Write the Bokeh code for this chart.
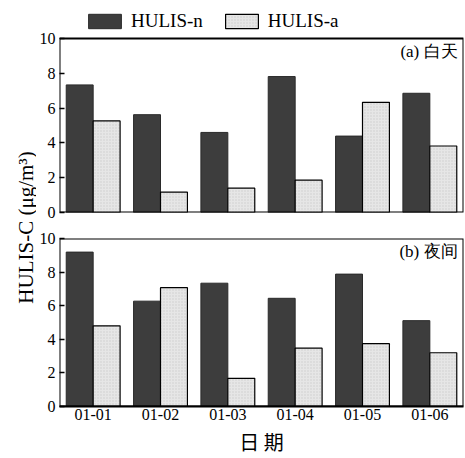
import math
from bokeh.plotting import figure
from bokeh.layouts import row, column
from bokeh.models import (ColumnDataSource, FactorRange, Range1d, Label,
                          Legend, LegendItem, FixedTicker, BoxAnnotation)
from bokeh.transform import dodge
from bokeh.embed import file_html
from bokeh.resources import INLINE

# ---------------- data ----------------
dates = ["01-01", "01-02", "01-03", "01-04", "01-05", "01-06"]
day_n = [7.33, 5.62, 4.60, 7.81, 4.39, 6.85]
day_a = [5.26, 1.17, 1.40, 1.86, 6.33, 3.82]
night_n = [9.19, 6.27, 7.34, 6.44, 7.88, 5.11]
night_a = [4.80, 7.07, 1.68, 3.47, 3.74, 3.20]
y_ticks = [0, 2, 4, 6, 8, 10]
series_names = ["HULIS-n", "HULIS-a"]
panel_titles = ["(a) 白天", "(b) 夜间"]
x_title = "日 期"
y_title = "HULIS-C (μg/m³)"

SERIF = "Liberation Serif"
CJK = "Noto Sans CJK SC"

DARK = "#3d3d3d"
LIGHT = "#e6e6e6"

LAB_W = 36
Y_MIN, Y_MAX = y_ticks[0], y_ticks[-1]


def make_panel(n_vals, a_vals, title, height, top, bottom, show_x, y_hi):
    src = ColumnDataSource(dict(date=dates, n=n_vals, a=a_vals))
    p = figure(x_range=FactorRange(factors=dates, range_padding=0),
               y_range=Range1d(Y_MIN, y_hi), width=465 - LAB_W, height=height,
               output_backend="svg", toolbar_location=None,
               min_border_left=58 - LAB_W, min_border_right=2,
               min_border_top=top, min_border_bottom=bottom)
    rn = p.vbar(x=dodge("date", -0.2, range=p.x_range), top="n", width=0.4,
                source=src, fill_color=DARK, line_color="#2a2a2a", line_width=1)
    ra = p.vbar(x=dodge("date", 0.2, range=p.x_range), top="a", width=0.4,
                source=src, fill_color=LIGHT, line_color="black", line_width=1.2,
                hatch_pattern=".", hatch_scale=3, hatch_color="#9a9a9a",
                hatch_alpha=0.35, hatch_weight=0.6)
    p.xgrid.visible = False
    p.ygrid.visible = False
    p.outline_line_color = None
    p.background_fill_color = "white"
    p.border_fill_color = "white"

    # panel frame spanning the value range
    p.add_layout(BoxAnnotation(left=0, right=len(dates), bottom=Y_MIN, top=Y_MAX,
                               fill_alpha=0, line_color="black", line_width=2,
                               line_alpha=1))

    ya = p.yaxis[0]
    ya.ticker = FixedTicker(ticks=y_ticks)
    ya.major_tick_in = 5
    ya.major_tick_out = 0
    ya.minor_tick_line_color = None
    ya.major_tick_line_width = 1.5
    ya.axis_line_color = None
    ya.major_label_text_font = SERIF
    ya.major_label_text_font_size = "16px"
    ya.major_label_text_color = "black"
    ya.major_label_standoff = 4

    xa = p.xaxis[0]
    if show_x:
        xa.major_tick_in = 0
        xa.major_tick_out = 0
        xa.minor_tick_line_color = None
        xa.axis_line_width = 2
        xa.major_label_text_font = SERIF
        xa.major_label_text_font_size = "16px"
        xa.major_label_text_color = "black"
        xa.major_label_standoff = 2
        xa.axis_label = x_title
        xa.axis_label_text_font = CJK
        xa.axis_label_text_font_style = "normal"
        xa.axis_label_text_font_size = "20px"
        xa.axis_label_text_color = "black"
        xa.axis_label_standoff = 4
    else:
        xa.visible = False

    p.add_layout(Label(x=len(dates), y=Y_MAX, x_offset=-6, y_offset=-13, text=title,
                       text_align="right", text_baseline="middle",
                       text_font=SERIF, text_font_size="17px",
                       text_color="black"))
    return p, rn, ra


# top panel: frame extends above the value range to host the legend
top_p, rn, ra = make_panel(day_n, day_a, panel_titles[0], 222, 4, 10, False, 11.95)
bot_p, _, _ = make_panel(night_n, night_a, panel_titles[1], 236, 16, 47, True, 10)

legend = Legend(items=[LegendItem(label=series_names[0], renderers=[rn]),
                       LegendItem(label=series_names[1], renderers=[ra])],
                location=(25, 180), orientation="horizontal",
                glyph_width=41, glyph_height=18, label_height=18,
                label_standoff=6, spacing=18, padding=0, margin=0,
                border_line_color=None, background_fill_alpha=0,
                label_text_font=SERIF, label_text_font_size="19px",
                label_text_color="black")
top_p.add_layout(legend)

# y-axis title spanning both panels
lab = figure(width=LAB_W, height=458, x_range=Range1d(0, LAB_W), y_range=Range1d(0, 458),
             output_backend="svg", toolbar_location=None,
             x_axis_location=None, y_axis_location=None,
             min_border=0, min_border_left=0, min_border_right=0,
             min_border_top=0, min_border_bottom=0)
lab.outline_line_color = None
lab.xgrid.visible = False
lab.ygrid.visible = False
lab.add_layout(Label(x=25, y=458 - 227, text=y_title, angle=math.pi / 2,
                     text_align="center", text_baseline="middle",
                     text_font=SERIF, text_font_size="21px", text_color="black"))

p = row(lab, column(top_p, bot_p, spacing=0), spacing=0)

open("out.html", "w").write(file_html(p, INLINE))
